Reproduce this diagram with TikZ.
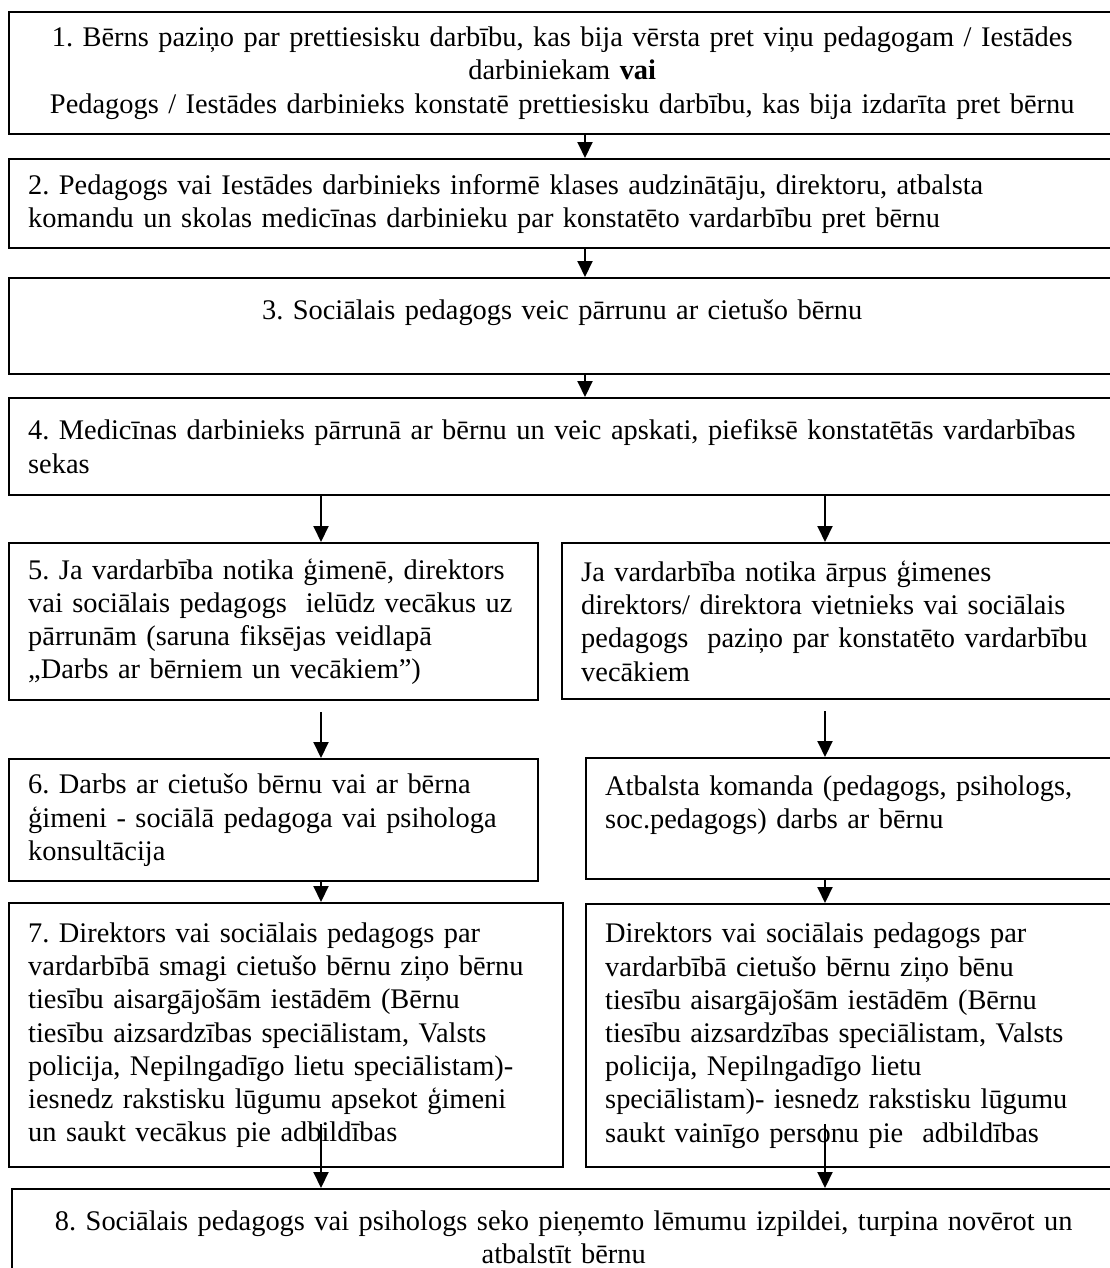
\documentclass[tikz,border=0pt]{standalone}
\usepackage{fontspec}
\setmainfont{Liberation Serif}
\usetikzlibrary{arrows.meta}

\begin{document}
\frenchspacing
\begin{tikzpicture}[x=0.5pt,y=-0.5pt]

        \useasboundingbox (0,0) rectangle (1109,1268);

        \coordinate (mid) at (585,0);
        \coordinate (lft) at (321,0);
        \coordinate (rgt) at (825,0);

        \begin{scope}[every node/.style={draw,rectangle,line width=1.2pt,anchor=north west,
            inner xsep=9.5pt,inner ysep=0pt,align=left,
            font=\fontsize{14.2}{16.6}\selectfont}]
          \node[minimum width=553pt,minimum height=61pt,text width=534pt,align=center] (1) at (8,11)
            {1. Bērns paziņo par prettiesisku darbību, kas bija vērsta pret viņu pedagogam / Iestādes\\
             darbiniekam \textbf{vai}\\
             Pedagogs / Iestādes darbinieks konstatē prettiesisku darbību, kas bija izdarīta pret bērnu};
          \node[minimum width=560pt,minimum height=44.5pt,text width=541pt] (2) at (8,158)
            {2. Pedagogs vai Iestādes darbinieks informē klases audzinātāju, direktoru, atbalsta\\
             komandu un skolas medicīnas darbinieku par konstatēto vardarbību pret bērnu};
          \node[minimum width=553pt,minimum height=48pt,text width=534pt,align=center] (3) at (8,277)
            {3. Sociālais pedagogs veic pārrunu ar cietušo bērnu\\ ~};
          \node[minimum width=560pt,minimum height=48.5pt,text width=541pt] (4) at (8,397)
            {4. Medicīnas darbinieks pārrunā ar bērnu un veic apskati, piefiksē konstatētās vardarbības\\
             sekas};
          \node[minimum width=264.5pt,minimum height=78.5pt,text width=245.5pt] (5a) at (8,542)
            {5. Ja vardarbība notika ģimenē, direktors\\
             vai sociālais pedagogs\ \ ielūdz vecākus uz\\
             pārrunām (saruna fiksējas veidlapā\\
             „Darbs ar bērniem un vecākiem”)};
          \node[minimum width=285pt,minimum height=78pt,text width=266pt] (5b) at (561,542)
            {Ja vardarbība notika ārpus ģimenes\\
             direktors/ direktora vietnieks vai sociālais\\
             pedagogs\ \ paziņo par konstatēto vardarbību\\
             vecākiem};
          \node[minimum width=264.5pt,minimum height=61pt,text width=245.5pt] (6a) at (8,758)
            {6. Darbs ar cietušo bērnu vai ar bērna\\
             ģimeni - sociālā pedagoga vai psihologa\\
             konsultācija};
          \node[minimum width=272pt,minimum height=60.5pt,text width=253pt] (6b) at (585,757)
            {Atbalsta komanda (pedagogs, psihologs,\\
             soc.pedagogs) darbs ar bērnu\\ ~};
          \node[minimum width=277pt,minimum height=132pt,text width=258pt] (7a) at (8,902)
            {7. Direktors vai sociālais pedagogs par\\
             vardarbībā smagi cietušo bērnu ziņo bērnu\\
             tiesību aisargājošām iestādēm (Bērnu\\
             tiesību aizsardzības speciālistam, Valsts\\
             policija, Nepilngadīgo lietu speciālistam)-\\
             iesnedz rakstisku lūgumu apsekot ģimeni\\
             un saukt vecākus pie adbildības};
          \node[minimum width=272pt,minimum height=131.5pt,text width=253pt] (7b) at (585,903)
            {Direktors vai sociālais pedagogs par\\
             vardarbībā cietušo bērnu ziņo bēnu\\
             tiesību aisargājošām iestādēm (Bērnu\\
             tiesību aizsardzības speciālistam, Valsts\\
             policija, Nepilngadīgo lietu\\
             speciālistam)- iesnedz rakstisku lūgumu\\
             saukt vainīgo personu pie\ \ adbildības};
          \node[minimum width=551.5pt,minimum height=48pt,text width=532.5pt,align=center] (8) at (11,1188)
            {8. Sociālais pedagogs vai psihologs seko pieņemto lēmumu izpildei, turpina novērot un\\
             atbalstīt bērnu};
        \end{scope}

        \begin{scope}[every edge/.style={draw,line width=1pt,-{Triangle[length=8pt,width=7.5pt]}}]
          \path (1.south -| mid) edge (2.north -| mid);
          \path (2.south -| mid) edge (3.north -| mid);
          \path (3.south -| mid) edge (4.north -| mid);
          \path (4.south -| lft) edge (5a.north -| lft);
          \path (4.south -| rgt) edge (5b.north -| rgt);
          \path ([yshift=-5.5pt]5a.south -| lft) edge (6a.north -| lft);
          \path ([yshift=-5.5pt]5b.south -| rgt) edge (6b.north -| rgt);
          \path (6a.south -| lft) edge (7a.north -| lft);
          \path (6b.south -| rgt) edge (7b.north -| rgt);
          \path ([yshift=22pt]7a.south -| lft) edge (8.north -| lft);
          \path ([yshift=22pt]7b.south -| rgt) edge (8.north -| rgt);
        \end{scope}

      \end{tikzpicture}
\end{document}
